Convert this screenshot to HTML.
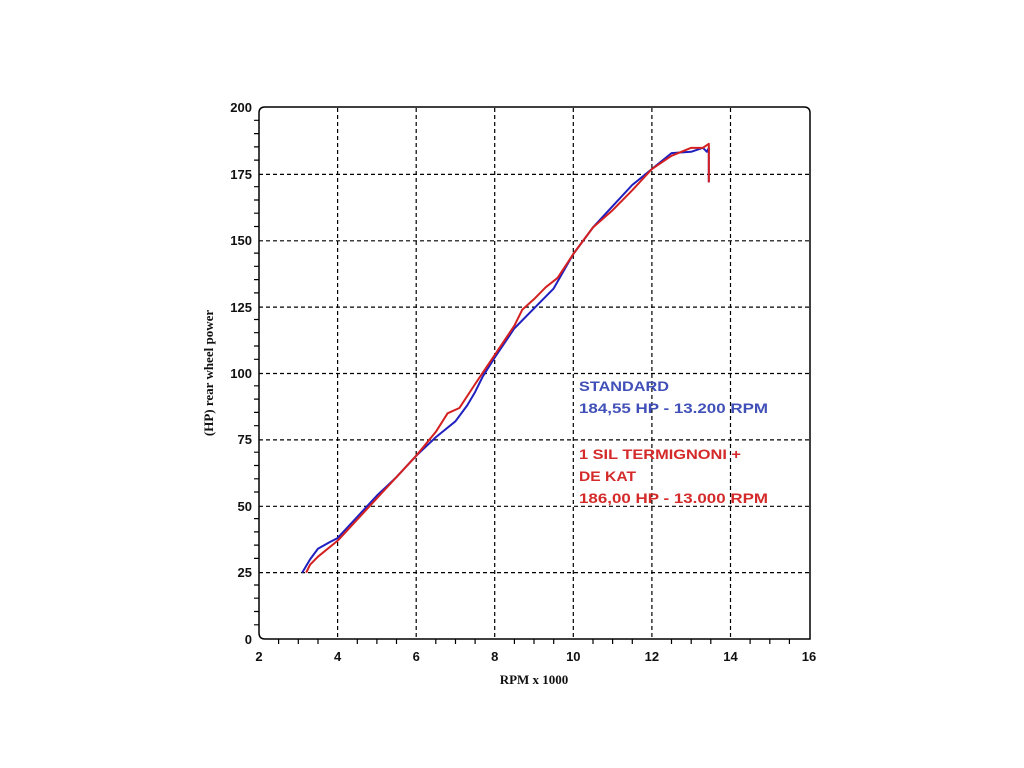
<!DOCTYPE html>
<html><head><style>html,body{margin:0;padding:0;background:#fff;}svg{display:block}</style></head>
<body>
<svg width="1024" height="768" viewBox="0 0 1024 768" xmlns="http://www.w3.org/2000/svg">
<rect width="1024" height="768" fill="#fff"/>
<g stroke="#000" stroke-width="1.2" stroke-dasharray="4,3" fill="none">
<line x1="337.6" y1="108" x2="337.6" y2="639"/>
<line x1="416.2" y1="108" x2="416.2" y2="639"/>
<line x1="494.7" y1="108" x2="494.7" y2="639"/>
<line x1="573.3" y1="108" x2="573.3" y2="639"/>
<line x1="651.9" y1="108" x2="651.9" y2="639"/>
<line x1="730.5" y1="108" x2="730.5" y2="639"/>
<line x1="259" y1="174.4" x2="810" y2="174.4"/>
<line x1="259" y1="240.8" x2="810" y2="240.8"/>
<line x1="259" y1="307.1" x2="810" y2="307.1"/>
<line x1="259" y1="373.5" x2="810" y2="373.5"/>
<line x1="259" y1="439.9" x2="810" y2="439.9"/>
<line x1="259" y1="506.3" x2="810" y2="506.3"/>
<line x1="259" y1="572.6" x2="810" y2="572.6"/>
</g>
<path d="M259,113 Q259,107 265,107 L804,107 Q810,107 810,113 L810,639 L265,639 Q259,639 259,633 Z" fill="none" stroke="#000" stroke-width="1.5"/>
<g stroke="#000" stroke-width="1.2">
<path d="M259,120.3h-5M259,133.6h-5M259,146.9h-5M259,160.1h-5M259,186.7h-5M259,200h-5M259,213.2h-5M259,226.5h-5M259,253.1h-5M259,266.3h-5M259,279.6h-5M259,292.9h-5M259,319.5h-5M259,332.7h-5M259,346h-5M259,359.3h-5M259,385.8h-5M259,399.1h-5M259,412.4h-5M259,425.7h-5M259,452.2h-5M259,465.5h-5M259,478.8h-5M259,492h-5M259,518.6h-5M259,531.9h-5M259,545.1h-5M259,558.4h-5M259,585h-5M259,598.2h-5M259,611.5h-5M259,624.8h-5"/>
<path d="M278.6,639v5M298.3,639v5M318,639v5M357.3,639v5M376.9,639v5M396.5,639v5M435.8,639v5M455.5,639v5M475.1,639v5M514.4,639v5M534,639v5M553.7,639v5M593,639v5M612.6,639v5M632.3,639v5M671.5,639v5M691.2,639v5M710.8,639v5M750.1,639v5M769.8,639v5M789.4,639v5"/>
</g>
<g font-family="Liberation Sans, sans-serif" font-weight="bold" font-size="13" fill="#111" text-anchor="end">
<text x="252" y="112">200</text><text x="252" y="179">175</text><text x="252" y="245">150</text>
<text x="252" y="312">125</text><text x="252" y="378">100</text><text x="252" y="444">75</text>
<text x="252" y="511">50</text><text x="252" y="577">25</text><text x="252" y="644">0</text>
</g>
<g font-family="Liberation Sans, sans-serif" font-weight="bold" font-size="13" fill="#111" text-anchor="middle">
<text x="259" y="661">2</text><text x="337.6" y="661">4</text><text x="416.2" y="661">6</text><text x="494.7" y="661">8</text>
<text x="573.3" y="661">10</text><text x="651.9" y="661">12</text><text x="730.5" y="661">14</text><text x="809" y="661">16</text>
</g>
<text x="534" y="684" font-family="Liberation Serif, serif" font-weight="bold" font-size="13" text-anchor="middle" fill="#111">RPM x 1000</text>
<text transform="translate(213,373) rotate(-90)" font-family="Liberation Serif, serif" font-weight="bold" font-size="13" text-anchor="middle" fill="#111">(HP) rear wheel power</text>
<g transform="translate(259,639) scale(39.286,-2.655) translate(-2,0)" fill="none" stroke-width="2" stroke-linejoin="round">
<polyline vector-effect="non-scaling-stroke" stroke="#2020c0" points="3.1,25 3.3,30 3.5,34 3.8,36.5 4,38 4.5,46 5,54 5.5,61 6,69 6.5,76 7,82 7.3,88 7.5,93 7.7,99 8,106 8.5,117 9,124.5 9.5,132 10,145 10.5,155 11,163 11.5,171 12,177 12.5,183 13,183.5 13.3,185 13.4,183.5 13.45,185 13.45,172"/>
<polyline vector-effect="non-scaling-stroke" stroke="#d42020" points="3.2,25 3.3,28 3.5,31 4,37 4.5,45 5,53 5.5,61 6,69 6.5,78 6.8,85 7.1,87 7.5,96 8,107 8.5,118 8.7,124 9,128 9.3,132.5 9.6,136 10,145 10.5,155 11,161.5 11.5,169 12,177 12.5,182 13,185 13.3,185 13.45,186.5 13.45,172"/>
</g>
<g font-family="Liberation Sans, sans-serif" font-weight="bold" font-size="14">
<text x="579" y="391" fill="#4050b8" textLength="90" lengthAdjust="spacingAndGlyphs">STANDARD</text>
<text x="579" y="413" fill="#4050b8" textLength="189" lengthAdjust="spacingAndGlyphs">184,55 HP - 13.200 RPM</text>
<text x="579" y="459" fill="#d42a2a" textLength="162" lengthAdjust="spacingAndGlyphs">1 SIL TERMIGNONI +</text>
<text x="579" y="481" fill="#d42a2a" textLength="57" lengthAdjust="spacingAndGlyphs">DE KAT</text>
<text x="579" y="503" fill="#d42a2a" textLength="189" lengthAdjust="spacingAndGlyphs">186,00 HP - 13.000 RPM</text>
</g>
</svg>
</body></html>
